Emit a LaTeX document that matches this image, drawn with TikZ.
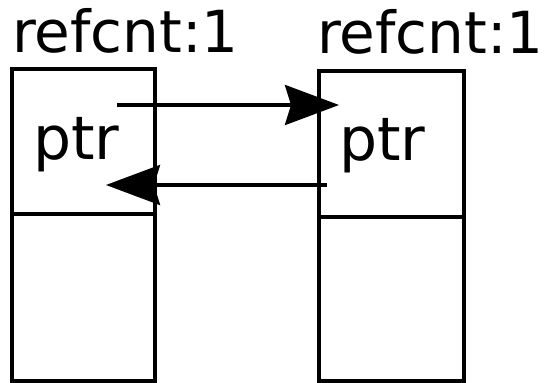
\documentclass[tikz,border=0pt]{standalone}
\usepackage{fontspec}
\setmainfont{DejaVu Sans}
\usetikzlibrary{arrows.meta}
\begin{document}
\begin{tikzpicture}[x=1pt,y=-1pt,
  cell/.style={draw=black, line width=3.5pt},
  lbl/.style={anchor=base west, inner sep=0pt, font=\fontsize{58}{64}\selectfont},
  ptrlbl/.style={anchor=base west, inner sep=0pt, font=\fontsize{60}{66}\selectfont},
  link/.style={line width=3.5pt, -{Stealth[length=54pt,width=40pt,inset=6pt]}}]
\useasboundingbox (0,0) rectangle (544,383);
% left object
\draw[cell] (12,69) rectangle (155,214);
\draw[cell] (12,214) rectangle (155,381);
\node[lbl] (lcount) at (12,52) {refcnt:1};
\node[ptrlbl] (lptr) at (33,159) {ptr};
% right object
\draw[cell] (319,71) rectangle (464,217);
\draw[cell] (319,217) rectangle (464,381);
\node[lbl] (rcount) at (317,53) {refcnt:1};
\node[ptrlbl] (rptr) at (339,160) {ptr};
% pointers between them
\coordinate (lout) at (117,105);
\coordinate (rin) at (339,105);
\coordinate (rout) at (327,185);
\coordinate (lin) at (106,185);
\draw[link] (lout) -- (rin);
\draw[link] (rout) -- (lin);
\end{tikzpicture}
\end{document}
